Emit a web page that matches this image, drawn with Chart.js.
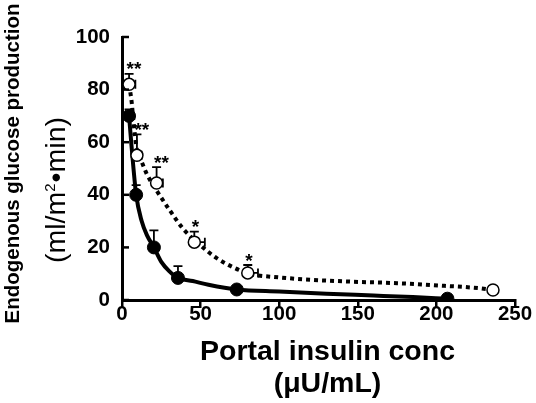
<!DOCTYPE html>
<html><head><meta charset="utf-8">
<script src="https://cdn.jsdelivr.net/npm/chart.js@4.4.1/dist/chart.umd.min.js"></script>
<style>html,body{margin:0;padding:0;background:#fff}#wrap{width:536px;height:403px}</style>
</head><body><div id="wrap"><canvas id="c" width="536" height="403"></canvas></div>
<script>
// Filled circles (solid curve)
const insulinFilled = [4.5, 9, 20.3, 35.6, 73, 207];
const egpFilled     = [70, 40, 20, 8.4, 4, 0.5];
const errFilled     = [2.5, 3.7, 6.5, 4.5, 0, 0];
// Open circles (dotted curve)
const insulinOpen = [4.5, 9.5, 22, 46, 80, 236];
const egpOpen     = [82, 55, 44.5, 22, 10.3, 3.8];
const errOpen     = [4, 8, 6, 4, 3, 0];
const xErrOpen    = [4, 3, 4, 6.7, 6.5, 0];
const signifOpen  = ["**", "**", "**", "*", "*", ""];
// Fitted curves
const fitSolidX = [4.5, 6, 9, 12.5, 16, 20.3, 25, 30, 35.6, 45, 55, 73, 100, 130, 160, 185, 207];
const fitSolidY = [70, 59, 40, 30, 24.5, 20, 14.5, 11, 8.4, 7.2, 5.8, 4.0, 3.2, 2.4, 1.7, 1.1, 0.5];
const fitDotX = [4.5, 6.2, 7.2, 9.5, 12.5, 15.7, 21, 30.5, 39, 49.5, 60, 70.5, 81, 100, 120, 145, 175, 205, 227, 236];
const fitDotY = [82, 75, 68.4, 57, 52.6, 48, 42.6, 34, 27, 21, 16, 12.5, 10, 8.6, 7.7, 7.0, 6.4, 5.4, 4.5, 3.8];
const xTicks = [0, 50, 100, 150, 200, 250];
const yTicks = [0, 20, 40, 60, 80, 100];
const yTitle = 'Endogenous glucose production';
const yUnitParts = ['(ml/m', '2', '•min)'];
const xTitle = ['Portal insulin conc', '(μU/mL)'];

const FONT = "'Liberation Sans', Arial, Helvetica, sans-serif";
const pts = (xs, ys) => xs.map((x, i) => ({x: x, y: ys[i]}));

function shiftTitle(scale, dx, dy) {
  if (scale._shifted) return;
  const orig = scale.drawTitle;
  scale.drawTitle = function () {
    this.ctx.save(); this.ctx.translate(dx, dy); orig.apply(this, arguments); this.ctx.restore();
  };
  scale._shifted = true;
}

const extras = {
  id: 'extras',
  afterLayout(chart) {
    shiftTitle(chart.scales.x, 9, 0);
    shiftTitle(chart.scales.y, 0, -5);
  },
  beforeDatasetsDraw(chart) {
    const {ctx, scales: {x, y}} = chart;
    ctx.save();
    ctx.strokeStyle = '#000';
    ctx.lineWidth = 1.8;
    const draw = (xs, ys, es, xes) => {
      xs.forEach((xv, i) => {
        const px = x.getPixelForValue(xv), py = y.getPixelForValue(ys[i]);
        if (es[i] > 0) {
          const ty = y.getPixelForValue(ys[i] + es[i]);
          ctx.beginPath(); ctx.moveTo(px, py); ctx.lineTo(px, ty);
          ctx.moveTo(px - 4.5, ty); ctx.lineTo(px + 4.5, ty); ctx.stroke();
        }
        if (xes && xes[i] > 0) {
          const tx = x.getPixelForValue(xv + xes[i]);
          ctx.beginPath(); ctx.moveTo(px, py); ctx.lineTo(tx, py);
          ctx.moveTo(tx, py - 4.5); ctx.lineTo(tx, py + 4.5); ctx.stroke();
        }
      });
    };
    draw(insulinFilled, egpFilled, errFilled, null);
    draw(insulinOpen, egpOpen, errOpen, xErrOpen);
    ctx.restore();
  },
  afterDatasetsDraw(chart) {
    const {ctx, scales: {x, y}, chartArea} = chart;
    ctx.save();
    ctx.fillStyle = '#000';
    ctx.font = "bold 19px " + FONT;
    ctx.textAlign = 'left';
    ctx.textBaseline = 'alphabetic';
    insulinOpen.forEach((xv, i) => {
      if (!signifOpen[i]) return;
      const px = x.getPixelForValue(xv);
      const capY = y.getPixelForValue(egpOpen[i] + errOpen[i]);
      ctx.fillText(signifOpen[i], px - 2.5, capY + 1.5);
    });
    ctx.strokeStyle = '#000';
    ctx.lineWidth = 2.5;
    yTicks.forEach(v => {
      const py = y.getPixelForValue(v);
      ctx.beginPath(); ctx.moveTo(chartArea.left, py); ctx.lineTo(chartArea.left + 7, py); ctx.stroke();
    });
    ctx.restore();
  },
  afterDraw(chart) {
    // second line of the y-axis title (unit), regular weight, larger
    const ctx = chart.ctx;
    ctx.save();
    ctx.translate(65, 190);
    ctx.rotate(-Math.PI / 2);
    ctx.fillStyle = '#000';
    ctx.textBaseline = 'alphabetic';
    ctx.textAlign = 'left';
    const big = "28.5px " + FONT, small = "15px " + FONT;
    ctx.font = big; const w0 = ctx.measureText(yUnitParts[0]).width, w2 = ctx.measureText(yUnitParts[2]).width;
    ctx.font = small; const w1 = ctx.measureText(yUnitParts[1]).width;
    let cx = -(w0 + w1 + w2 + 1) / 2;
    ctx.font = big; ctx.fillText(yUnitParts[0], cx, 0); cx += w0;
    ctx.font = small; ctx.fillText(yUnitParts[1], cx, -10); cx += w1 + 1;
    ctx.font = big; ctx.fillText(yUnitParts[2], cx, 0);
    ctx.restore();
  }
};

new Chart(document.getElementById('c'), {
  type: 'scatter',
  data: {
    datasets: [
      {label: 'fit filled', data: pts(fitSolidX, fitSolidY), showLine: true, borderColor: '#000', borderWidth: 4,
       pointRadius: 0, cubicInterpolationMode: 'monotone', order: 3},
      {label: 'fit open', data: pts(fitDotX, fitDotY), showLine: true, borderColor: '#000', borderWidth: 4,
       borderDash: [4, 4], borderCapStyle: 'butt', pointRadius: 0, cubicInterpolationMode: 'monotone', order: 2},
      {label: 'filled', data: pts(insulinFilled, egpFilled), showLine: false, pointRadius: 6.5,
       backgroundColor: '#000', borderColor: '#000', borderWidth: 1, order: 1},
      {label: 'open', data: pts(insulinOpen, egpOpen), showLine: false, pointRadius: 6,
       backgroundColor: '#fff', borderColor: '#000', borderWidth: 1.5, order: 0}
    ]
  },
  options: {
    responsive: false,
    animation: false,
    layout: {padding: {top: 37, right: 21, left: 0, bottom: 0}},
    plugins: {legend: {display: false}, tooltip: {enabled: false}},
    scales: {
      x: {
        type: 'linear', min: 0, max: 250,
        afterBuildTicks: s => { s.ticks = xTicks.map(v => ({value: v})); },
        afterFit: s => { s.height = 103; },
        grid: {drawOnChartArea: false, drawTicks: true, tickLength: 8, color: '#000', lineWidth: 2.5},
        border: {display: true, color: '#000', width: 3},
        ticks: {color: '#000', padding: -6, maxRotation: 0, font: {family: FONT, size: 20.5, weight: 'bold'}},
        title: {display: true, text: xTitle, color: '#000',
                font: {family: FONT, size: 28.5, weight: 'bold', lineHeight: 1.105}, padding: {top: 0, bottom: 3.5}}
      },
      y: {
        type: 'linear', min: 0, max: 100,
        afterBuildTicks: s => { s.ticks = yTicks.map(v => ({value: v})); },
        afterFit: s => { s.width = 122; },
        grid: {drawOnChartArea: false, drawTicks: false},
        border: {display: true, color: '#000', width: 3},
        ticks: {color: '#000', padding: 12, font: {family: FONT, size: 20.5, weight: 'bold'}},
        title: {display: true, text: yTitle, color: '#000',
                font: {family: FONT, size: 20.5, weight: 'bold', lineHeight: 1.2}, padding: {top: 1, bottom: 0}}
      }
    }
  },
  plugins: [extras]
});
</script></body></html>
